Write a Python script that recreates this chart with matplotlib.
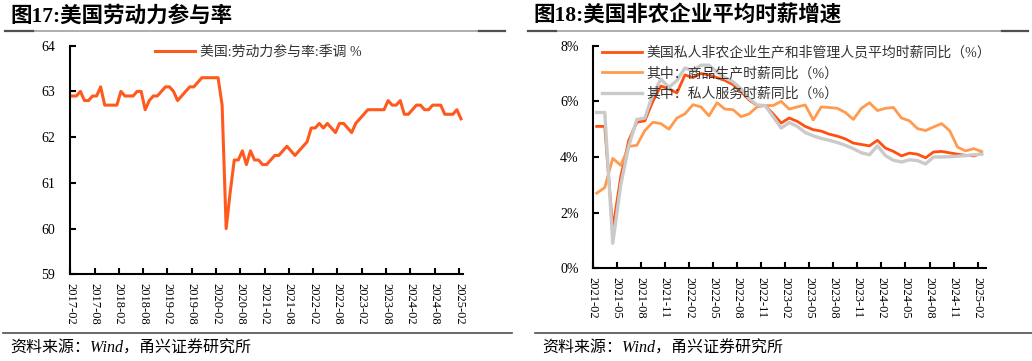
import numpy as np
import matplotlib.pyplot as plt
from matplotlib.lines import Line2D

plt.rcParams['font.family'] = ['Liberation Serif', 'Noto Sans CJK SC']

# ---- left chart: US labour force participation rate, monthly 2017-02 .. 2025-02
lfpr = [
    62.9, 62.9, 63.0, 62.8, 62.8, 62.9, 62.9, 63.1, 62.7, 62.7, 62.7,          # 2017
    62.7, 63.0, 62.9, 62.9, 62.9, 63.0, 63.0, 62.6, 62.8, 62.9, 62.9, 63.0,    # 2018
    63.1, 63.1, 63.0, 62.8, 62.9, 63.0, 63.1, 63.1, 63.2, 63.3, 63.3, 63.3,    # 2019
    63.3, 63.3, 62.7, 60.0, 60.8, 61.5, 61.5, 61.7, 61.4, 61.7, 61.5, 61.5,    # 2020
    61.4, 61.4, 61.5, 61.6, 61.6, 61.7, 61.8, 61.7, 61.6, 61.7, 61.8, 61.9,    # 2021
    62.2, 62.2, 62.3, 62.2, 62.3, 62.2, 62.1, 62.3, 62.3, 62.2, 62.1, 62.3,    # 2022
    62.4, 62.5, 62.6, 62.6, 62.6, 62.6, 62.6, 62.8, 62.7, 62.7, 62.8, 62.5,    # 2023
    62.5, 62.6, 62.7, 62.7, 62.6, 62.6, 62.7, 62.7, 62.7, 62.5, 62.5, 62.5,    # 2024
    62.6, 62.4,                                                                # 2025
]
lfpr_ticks = ['2017-02', '2017-08', '2018-02', '2018-08', '2019-02', '2019-08',
              '2020-02', '2020-08', '2021-02', '2021-08', '2022-02', '2022-08',
              '2023-02', '2023-08', '2024-02', '2024-08', '2025-02']
lfpr_label = '美国:劳动力参与率:季调 %'

# ---- right chart: hourly earnings yoy (%), monthly 2021-02 .. 2025-02
wage_total = [
    5.1, 5.1, 1.4, 3.3, 4.6, 5.25, 5.3, 6.0, 6.55, 6.45, 6.3,
    6.95, 6.85, 7.0, 6.95, 6.85, 6.75, 6.6, 6.35, 6.05, 5.85, 5.85, 5.55,
    5.22, 5.4, 5.28, 5.1, 4.98, 4.93, 4.82, 4.75, 4.65, 4.5, 4.45, 4.4,
    4.6, 4.32, 4.2, 4.04, 4.14, 4.1, 3.97, 4.18, 4.2, 4.15, 4.1, 4.06,
    4.04, 4.13,
]
wage_goods = [
    2.7, 2.9, 3.95, 3.7, 4.38, 4.42, 4.95, 5.25, 5.2, 5.0, 5.4,
    5.55, 5.88, 5.8, 5.48, 5.95, 5.72, 5.7, 5.45, 5.55, 5.8, 5.85, 5.85,
    6.0, 5.72, 5.8, 5.87, 5.33, 5.8, 5.78, 5.75, 5.6, 5.35, 5.75, 5.95,
    5.67, 5.75, 5.78, 5.4, 5.3, 5.02, 4.95, 5.08, 5.2, 4.95, 4.35, 4.22,
    4.3, 4.2,
]
wage_service = [
    5.6, 5.6, 0.9, 3.0, 4.4, 5.35, 5.4, 6.25, 6.8, 6.5, 6.75,
    7.2, 7.1, 7.3, 7.3, 7.05, 6.85, 6.7, 6.45, 6.1, 5.87, 5.85, 5.45,
    5.04, 5.24, 5.1, 4.88, 4.76, 4.67, 4.6, 4.52, 4.42, 4.3, 4.15, 4.08,
    4.4, 4.05, 3.88, 3.82, 3.9, 3.87, 3.75, 4.0, 4.0, 4.01, 4.03, 4.05,
    4.08, 4.1,
]
wage_ticks = ['2021-02', '2021-05', '2021-08', '2021-11', '2022-02', '2022-05',
              '2022-08', '2022-11', '2023-02', '2023-05', '2023-08', '2023-11',
              '2024-02', '2024-05', '2024-08', '2024-11', '2025-02']
wage_labels = ['美国私人非农企业生产和非管理人员平均时薪同比（%）',
               '其中：商品生产时薪同比（%）',
               '其中：私人服务时薪同比（%）']

W, H = 1032, 361
fig = plt.figure(figsize=(W / 100, H / 100), dpi=100)


def style_axis(ax):
    for s in ['top', 'right']:
        ax.spines[s].set_visible(False)
    for s in ['left', 'bottom']:
        ax.spines[s].set_linewidth(1.5)
    ax.tick_params(axis='both', direction='in', length=4, width=1.5, colors='black')
    ax.tick_params(axis='x', labelsize=9, pad=6)
    ax.tick_params(axis='y', labelsize=10)


# left panel
ax1 = fig.add_axes([70.3 / W, 1 - 274.3 / H, 392.7 / W, 228.6 / H])
x1 = np.arange(len(lfpr)) + 0.5
ax1.plot(x1, lfpr, color='#FF5A1E', lw=2.2, solid_joinstyle='round', label=lfpr_label)
ax1.set_xlim(0, len(lfpr))
ax1.set_ylim(59, 64)
ax1.set_yticks([59, 60, 61, 62, 63, 64])
ax1.set_xticks(np.arange(0, len(lfpr), 6))
ax1.set_xticklabels(lfpr_ticks, rotation=-90)
style_axis(ax1)
ax1.tick_params(axis='y', pad=11)
ax1.legend(loc='upper left', bbox_to_anchor=(0.215, 1.0), frameon=False, fontsize=10,
           handlelength=2.9, handletextpad=0.35, borderpad=0, borderaxespad=0,
           labelcolor='#333333')

# right panel
ax2 = fig.add_axes([592.7 / W, 1 - 268.3 / H, 393 / W, 222.6 / H])
x2 = np.arange(len(wage_total)) + 0.5
ax2.plot(x2, wage_total, color='#FF5010', lw=2.0, label=wage_labels[0])
ax2.plot(x2, wage_goods, color='#FF9A4E', lw=2.0, label=wage_labels[1])
ax2.plot(x2, wage_service, color='#CACACA', lw=2.4, label=wage_labels[2])
ax2.set_xlim(0, len(wage_total))
ax2.set_ylim(0, 8)
ax2.set_yticks([0, 2, 4, 6, 8])
ax2.set_yticklabels(['%d%%' % v for v in [0, 2, 4, 6, 8]])
ax2.set_xticks(np.arange(0, len(wage_total), 3))
ax2.set_xticklabels(wage_ticks, rotation=-90)
style_axis(ax2)
ax2.tick_params(axis='y', pad=10)
ax2.legend(loc='upper left', bbox_to_anchor=(0.023, 1.0), frameon=False, fontsize=10,
           handlelength=2.9, handletextpad=0.3, borderpad=0, borderaxespad=0,
           labelspacing=0.5, labelcolor='#333333')

# titles, rules and source notes
for x0, x1_, title in [(5, 505, '图17:美国劳动力参与率'), (528, 1028, '图18:美国非农企业平均时薪增速')]:
    fig.text((x0 + 5) / W, 1 - 16 / H, title, fontsize=15.5, fontweight='bold', va='center')
    fig.add_artist(Line2D([x0 / W, x1_ / W], [1 - 31 / H] * 2, color='#A0A0A0', lw=1.2,
                          transform=fig.transFigure))
    fig.add_artist(Line2D([x0 / W, (x0 + 28) / W], [1 - 31 / H] * 2, color='#505050', lw=1.6,
                          transform=fig.transFigure))
    fig.add_artist(Line2D([(x1_ - 26) / W, x1_ / W], [1 - 31 / H] * 2, color='#505050', lw=1.6,
                          transform=fig.transFigure))

for x0, x1_ in [(3, 512), (535, 1032)]:
    fig.add_artist(Line2D([x0 / W, x1_ / W], [1 - 333 / H] * 2, color='#505050', lw=1.2,
                          transform=fig.transFigure))
    fig.text((x0 + 7) / W, 1 - 349 / H, '资料来源：Wind，甬兴证券研究所', fontsize=11.5,
             style='italic', va='center')

fig.savefig('out.png', dpi=100)
